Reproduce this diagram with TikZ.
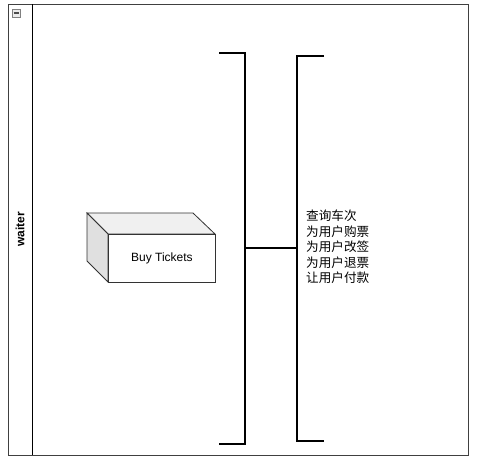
\documentclass[tikz,border=0pt]{standalone}
\usepackage{fontspec}
\setmainfont{Liberation Sans}
\newfontfamily\cjk{Noto Sans CJK SC}
\begin{document}
\begin{tikzpicture}[x=1pt,y=-1pt,
  frame/.style={draw=black!75,line width=1pt},
  brk/.style={draw=black,line width=2pt},
  face/.style={draw=black!80,line width=0.8pt}]
\useasboundingbox (0,0) rectangle (486,467);
% swimlane
\draw[frame] (8,4) rectangle (468,455);
\draw[draw=black,line width=1pt] (32,4) -- (32,455);
\node[draw=black!50,fill=black!8,minimum size=8pt,inner sep=0pt] (col) at (16,13) {};
\draw[black!70,line width=1.2pt] (13.5,13) -- (18.5,13);
\node[rotate=90,font=\bfseries\fontsize{12}{14}\selectfont] (lane) at (20,229) {waiter};
% box
\draw[face,fill=black!6] (87,213) -- (193,213) -- (215,234) -- (108,234) -- cycle;
\draw[face,fill=black!12] (87,213) -- (108,234) -- (108,282) -- (87,261) -- cycle;
\node[face,fill=white,minimum width=107pt,minimum height=48pt,inner sep=0pt,anchor=north west,font=\fontsize{12}{14}\selectfont] (box) at (108,234) {Buy Tickets};
% brackets
\coordinate (lt) at (219,53);
\coordinate (lb) at (219,444);
\coordinate (lm) at (245,248);
\coordinate (rm) at (297,248);
\coordinate (rt) at (324,56);
\coordinate (rb) at (324,441);
\draw[brk] (lt) -- (245,53) -- (245,444) -- (lb);
\draw[brk,line width=1.6pt] (lm) -- (rm);
\draw[brk] (rt) -- (297,56) -- (297,441) -- (rb);
\node[anchor=west,align=left,inner sep=0pt,font=\cjk\fontsize{12.6}{15.5}\selectfont] (txt) at (306,247)
{查询车次\\为用户购票\\为用户改签\\为用户退票\\让用户付款};
\end{tikzpicture}
\end{document}
